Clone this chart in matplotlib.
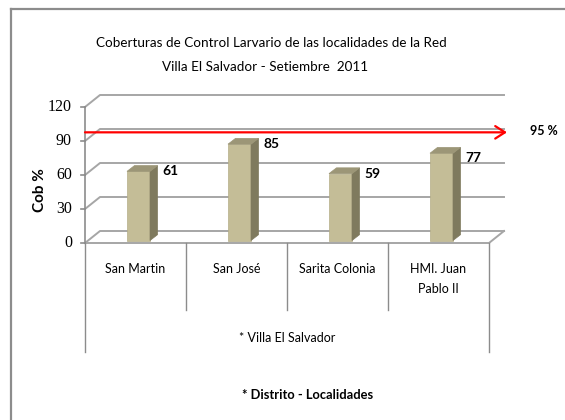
import numpy as np
import matplotlib.pyplot as plt
import matplotlib.transforms as mtransforms
from matplotlib.patches import Polygon

plt.rcParams['font.family'] = ['Lato', 'DejaVu Sans']

# data
localidades = ['San Martin', 'San José', 'Sarita Colonia', 'HMI. Juan\nPablo II']
cobertura = [61, 85, 59, 77]
meta = 95
yticks = [0, 30, 60, 90, 120]
titulo = ['Coberturas de Control Larvario de las localidades de la Red',
          'Villa El Salvador - Setiembre  2011']
grupo = '* Villa El Salvador'
xlabel = '* Distrito - Localidades'
ylabel = 'Cob %'

W, H = 565, 420
fig = plt.figure(figsize=(W/100, H/100), dpi=100)
ax = fig.add_axes([85/W, 1-243/H, (489-85)/W, (243-107)/H])
ax.set_xlim(0, len(localidades))
ax.set_ylim(0, 120)
ax.axis('off')
ident = mtransforms.IdentityTransform()

def px(x, y, dx=0, dy=0):
    X, Y = ax.transData.transform((x, y))
    return (X+dx, Y+dy)

DX, DY = 15, 12  # depth of the 3d box
grid_c = '#a6a6a6'

# border of chart area (top and left only visible)
fig.add_artist(plt.Line2D([11/W, 1], [1-9/H, 1-9/H], color='#8c8c8c', lw=1.6))
fig.add_artist(plt.Line2D([11/W, 11/W], [0, 1-9/H], color='#8c8c8c', lw=1.6))

# wall gridlines
n = len(localidades)
for v in yticks:
    a = px(0, v); b = px(0, v, DX, DY); c = px(n, v, DX, DY)
    ax.plot([a[0], b[0], c[0]], [a[1], b[1], c[1]], color=grid_c, lw=1.4,
            transform=ident, clip_on=False, zorder=1)
# floor
f0 = px(0, 0); f1 = px(n, 0); f2 = px(n, 0, DX, DY)
ax.plot([f0[0], f1[0], f2[0]], [f0[1], f1[1], f2[1]], color=grid_c, lw=1.4,
        transform=ident, clip_on=False, zorder=1)
# y axis
top = px(0, 120)
ax.plot([f0[0], top[0]], [f0[1], top[1]], color='#8c8c8c', lw=1.2, transform=ident, clip_on=False, zorder=2)
for v in yticks:
    p = px(0, v)
    ax.plot([p[0]-4, p[0]], [p[1], p[1]], color='#8c8c8c', lw=1.2, transform=ident, clip_on=False)
    ax.text(p[0]-13, p[1], str(v), ha='right', va='center', fontsize=11.5,
            family='Liberation Serif', transform=ident)

# bars
bw = 0.114
fdx, fdy = 3, 2.5
bdx, bdy = 10.5, 8.3
label_nudge = [0, 0, 0, -5]
for i, v in enumerate(cobertura):
    c = i + 0.5
    fl = px(c-bw, 0, fdx, fdy); fr = px(c+bw, 0, fdx, fdy)
    tl = px(c-bw, v, fdx, fdy); tr = px(c+bw, v, fdx, fdy)
    br = px(c+bw, 0, bdx, bdy); btr = px(c+bw, v, bdx, bdy); btl = px(c-bw, v, bdx, bdy)
    ax.add_patch(Polygon([fl, fr, tr, tl], closed=True, facecolor='#c4bd97', edgecolor='#b5ae88',
                         lw=0.5, transform=ident, clip_on=False, zorder=3))
    ax.add_patch(Polygon([fr, br, btr, tr], closed=True, facecolor='#7f7a5e', edgecolor='#7f7a5e',
                         lw=0.5, transform=ident, clip_on=False, zorder=3))
    ax.add_patch(Polygon([tl, tr, btr, btl], closed=True, facecolor='#9c9677', edgecolor='#9c9677',
                         lw=0.5, transform=ident, clip_on=False, zorder=3))
    ax.text(tr[0]+12, tr[1]+label_nudge[i], str(v), ha='left', va='center', fontsize=10,
            fontweight='bold', transform=ident, zorder=5)

# target line
a = px(0, meta, 0, 3); b = px(n, meta, 18, 3)
ax.annotate('', xy=b, xytext=a, xycoords=ident, textcoords=ident,
            arrowprops=dict(arrowstyle='->,head_length=0.7,head_width=0.45', color='red', lw=1.6,
                            shrinkA=0, shrinkB=0), zorder=4)
ax.text(530, b[1]+1, f'{meta} %', ha='left', va='center', fontsize=9, fontweight='bold', transform=ident)

# category axis
ytr = mtransforms.blended_transform_factory(ax.transData, fig.transFigure)
for k in range(n+1):
    low = 352 if k in (0, n) else 310
    ax.plot([k, k], [1-243/H, 1-low/H], color='#8c8c8c', lw=1.0, transform=ytr, clip_on=False)
for i, lab in enumerate(localidades):
    ax.text(i+0.5, 1-263/H, lab, ha='center', va='top', fontsize=9, linespacing=1.8, transform=ytr)
ax.text(n/2, 1-338/H, grupo, ha='center', va='center', fontsize=9, transform=ytr)

fig.text(308/W, 1-395/H, xlabel, ha='center', va='center', fontsize=9.3, fontweight='bold')
fig.text(40/W, 1-190/H, ylabel, ha='center', va='center', fontsize=11, fontweight='bold', rotation=90)
fig.text(271/W, 1-43/H, titulo[0], ha='center', va='center', fontsize=9.7)
fig.text(265/W, 1-67/H, titulo[1], ha='center', va='center', fontsize=9.7)

fig.savefig('out.png', dpi=100)
